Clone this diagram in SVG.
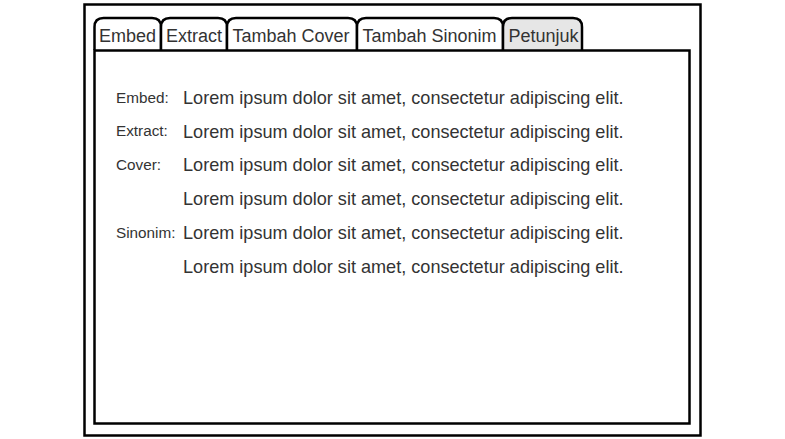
<svg xmlns="http://www.w3.org/2000/svg" width="785" height="439" viewBox="0 0 785 439">
<style>
.frame{fill:#fff;stroke:#000;stroke-width:2.5}
.tab{fill:#fff;stroke:#000;stroke-width:2.5;stroke-linejoin:round}
.tab.active{fill:#e6e6e6}
.tt{font-family:"Liberation Sans",Arial,sans-serif;font-size:18px;fill:#333}
.lbl{font-family:"Liberation Sans",Arial,sans-serif;font-size:15.3px;fill:#333}
.body{font-family:"Liberation Sans",Arial,sans-serif;font-size:18.1px;fill:#333}
</style>
<rect width="785" height="439" fill="#fff"/>
<g id="window">
<rect class="frame" x="84.5" y="4.5" width="616" height="431"/>
</g>
<g id="tabs">
<g id="tab-embed"><path class="tab" d="M94.5,50 V27 Q94.5,18 103.5,18 H152 Q161,18 161,27 V50"/><text class="tt" x="99" y="42">Embed</text></g>
<g id="tab-extract"><path class="tab" d="M161,50 V27 Q161,18 170,18 H218 Q227,18 227,27 V50"/><text class="tt" x="166" y="42">Extract</text></g>
<g id="tab-cover"><path class="tab" d="M227,50 V27 Q227,18 236,18 H348 Q357,18 357,27 V50"/><text class="tt" x="232.5" y="42">Tambah Cover</text></g>
<g id="tab-sinonim"><path class="tab" d="M357,50 V27 Q357,18 366,18 H494 Q503,18 503,27 V50"/><text class="tt" x="362.5" y="42">Tambah Sinonim</text></g>
<g id="tab-petunjuk"><path class="tab active" d="M503,50 V27 Q503,18 512,18 H573 Q582,18 582,27 V50"/><text class="tt" x="508.5" y="42">Petunjuk</text></g>
</g>
<g id="panel">
<rect class="frame" x="94.5" y="50.5" width="595" height="373"/>
<text class="lbl" x="116" y="102.5">Embed:</text>
<text class="lbl" x="116" y="136">Extract:</text>
<text class="lbl" x="116" y="170">Cover:</text>
<text class="lbl" x="116" y="238">Sinonim:</text>
<text class="body" x="183" y="104">Lorem ipsum dolor sit amet, consectetur adipiscing elit.</text>
<text class="body" x="183" y="138">Lorem ipsum dolor sit amet, consectetur adipiscing elit.</text>
<text class="body" x="183" y="171">Lorem ipsum dolor sit amet, consectetur adipiscing elit.</text>
<text class="body" x="183" y="205">Lorem ipsum dolor sit amet, consectetur adipiscing elit.</text>
<text class="body" x="183" y="239">Lorem ipsum dolor sit amet, consectetur adipiscing elit.</text>
<text class="body" x="183" y="273">Lorem ipsum dolor sit amet, consectetur adipiscing elit.</text>
</g>
<g id="connectors"/>
</svg>
